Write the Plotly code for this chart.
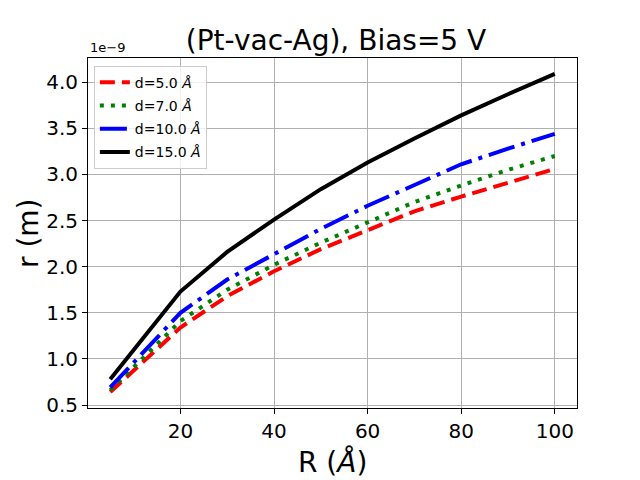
import plotly.graph_objects as go

# R in Angstrom, r in units of 1e-9 m
R = [5, 20, 30, 40, 50, 60, 70, 80, 90, 100]
r_d5 = [0.64, 1.34, 1.68, 1.95, 2.19, 2.40, 2.60, 2.76, 2.91, 3.06]
r_d7 = [0.66, 1.41, 1.75, 2.02, 2.26, 2.48, 2.70, 2.88, 3.05, 3.20]
r_d10 = [0.69, 1.50, 1.86, 2.14, 2.41, 2.66, 2.89, 3.11, 3.28, 3.44]
r_d15 = [0.78, 1.73, 2.16, 2.51, 2.84, 3.13, 3.39, 3.64, 3.87, 4.09]

names = ["d=5.0 <i>Å</i>", "d=7.0 <i>Å</i>", "d=10.0 <i>Å</i>", "d=15.0 <i>Å</i>"]
series = [r_d5, r_d7, r_d10, r_d15]
colors = ["red", "green", "blue", "black"]
dashes = ["15px,7px", "4px,7px", "27px,7px,4px,7px", "solid"]

font = "DejaVu Sans"

fig = go.Figure()
for i, (name, ys, c, d) in enumerate(zip(names, series, colors, dashes)):
    fig.add_trace(
        go.Scatter(
            x=R,
            y=ys,
            mode="lines",
            name=name,
            legendgroup=str(i),  # separate groups so tracegroupgap spaces the rows
            line=dict(color=c, width=4, dash=d),
        )
    )

axis_style = dict(
    showline=True,
    linecolor="black",
    linewidth=1,
    mirror=True,
    ticks="outside",
    ticklen=5,
    tickcolor="black",
    showgrid=True,
    gridcolor="#b0b0b0",
    gridwidth=1,
    zeroline=False,
    automargin=False,
    tickfont=dict(family=font, size=20, color="black"),
)

# page body has an 8px margin, so the figure is a bit smaller than the window
fig.update_layout(
    width=632,
    height=472,
    paper_bgcolor="white",
    plot_bgcolor="white",
    margin=dict(l=80, r=63, t=50, b=72),
    title=dict(
        text="(Pt-vac-Ag), Bias=5 V",
        x=0.519,
        xanchor="center",
        y=0.932,
        yanchor="middle",
        font=dict(family=font, size=28, color="black"),
    ),
    xaxis=dict(
        axis_style,
        range=[0.25, 104.75],
        tickvals=[20, 40, 60, 80, 100],
    ),
    yaxis=dict(
        axis_style,
        range=[0.4675, 4.2625],
        tickvals=[0.5, 1.0, 1.5, 2.0, 2.5, 3.0, 3.5, 4.0],
        tickformat=".1f",
    ),
    legend=dict(
        x=0.012,
        y=0.978,
        xanchor="left",
        yanchor="top",
        bgcolor="rgba(255,255,255,0.8)",
        bordercolor="#cccccc",
        borderwidth=1,
        font=dict(family=font, size=14, color="black"),
        tracegroupgap=2,
        itemwidth=30,
    ),
    annotations=[
        dict(
            text="1e−9",
            x=0,
            y=1,
            xref="paper",
            yref="paper",
            xanchor="left",
            yanchor="bottom",
            yshift=1,
            showarrow=False,
            font=dict(family=font, size=13, color="black"),
        ),
        dict(
            text="R (<i>Å</i>)",
            x=0.5,
            y=0,
            xref="paper",
            yref="paper",
            xanchor="center",
            yanchor="middle",
            yshift=-54,
            showarrow=False,
            font=dict(family=font, size=28, color="black"),
        ),
        dict(
            text="r (m)",
            x=0,
            y=0.5,
            xref="paper",
            yref="paper",
            xanchor="center",
            yanchor="middle",
            xshift=-60,
            textangle=-90,
            showarrow=False,
            font=dict(family=font, size=28, color="black"),
        ),
    ],
)

fig.write_html("out.html")
